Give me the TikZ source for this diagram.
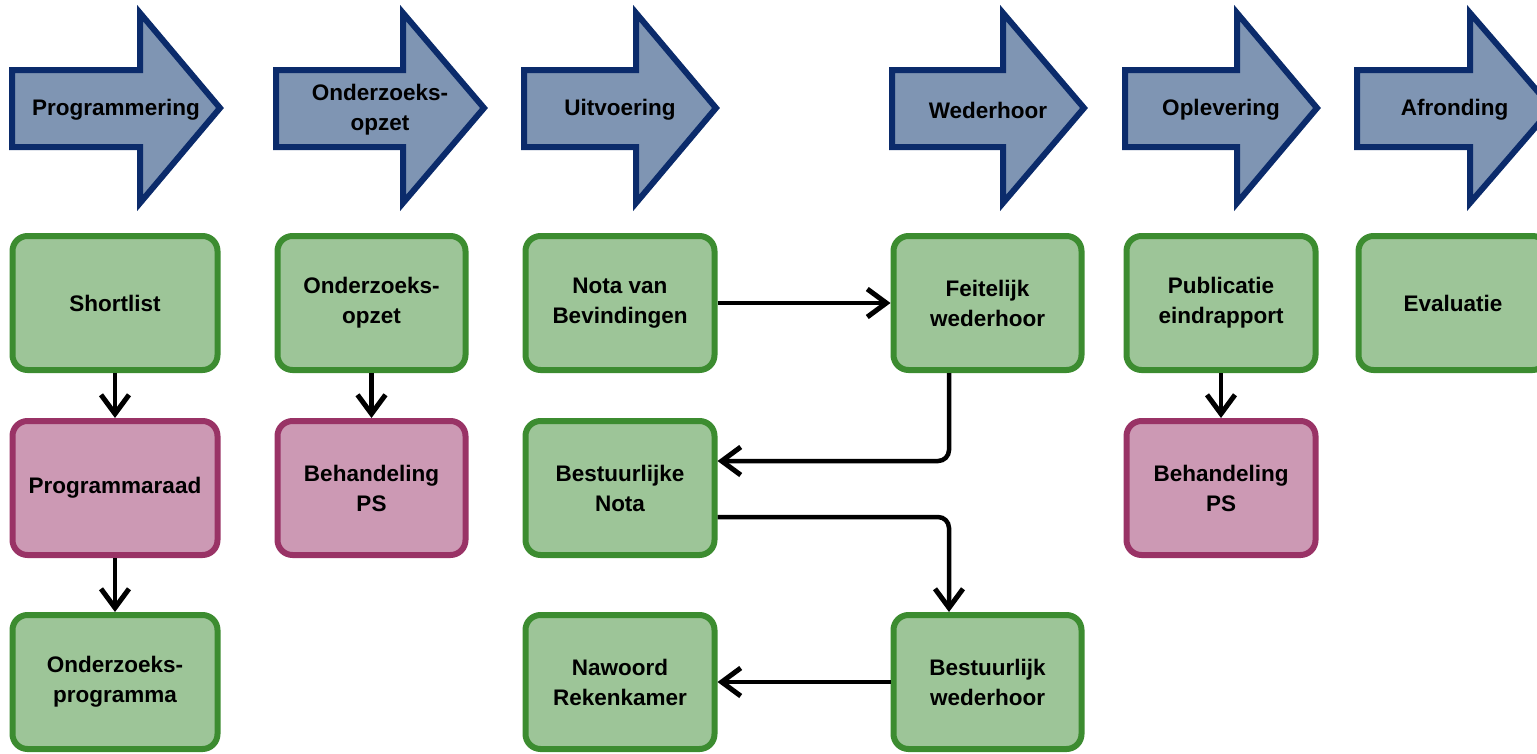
\documentclass[tikz,border=0pt]{standalone}
\usepackage{fontspec}
\setmainfont{Liberation Sans}
\usetikzlibrary{arrows.meta}
\definecolor{phfill}{HTML}{7F95B3}
\definecolor{phline}{HTML}{0B2B6B}
\definecolor{gfill}{HTML}{9DC598}
\definecolor{gline}{HTML}{3C8C30}
\definecolor{pfill}{HTML}{CC99B4}
\definecolor{pline}{HTML}{993366}
\tikzset{
  phase/.style={fill=phfill,draw=phline,line width=6pt,line join=miter},
  phasetext/.style={font=\bfseries\fontsize{22.5}{30}\selectfont,align=center},
  gbox/.style={draw=gline,fill=gfill,line width=6pt,rounded corners=15pt,minimum width=#1,minimum height=134pt,font=\bfseries\fontsize{22.5}{30}\selectfont,align=center,inner sep=0pt},
  pbox/.style={gbox=#1,draw=pline,fill=pfill},
  conn/.style={line width=4.5pt,-{Straight Barb[length=19pt,width=28pt,line width=5pt]},rounded corners=11pt}
}
\begin{document}
\begin{tikzpicture}[x=1pt,y=-1pt]
\useasboundingbox (0,0) rectangle (1537,753);
\clip (0,0) rectangle (1537,753);
% phase arrows
\foreach \L/\B/\T/\txt/\nm in {12/140/220/Programmering/a1, 276/403/484/Onderzoeks-\\opzet/a2, 524/636/716/Uitvoering/a3, 892/1003/1084/Wederhoor/a4, 1125/1237/1317/Oplevering/a5, 1357/1470/1552/Afronding/a6}{
  \draw[phase] (\L,70) -- (\B,70) -- (\B,13) -- (\T,108) -- (\B,203) -- (\B,147) -- (\L,147) -- cycle;
  \node[phasetext] (\nm) at ({(\L+\T)/2},110) {\txt};
}
% boxes
\node[gbox=205pt] (shortlist) at (115,303) {Shortlist};
\node[pbox=205pt] (praad) at (115,488) {Programmaraad};
\node[gbox=205pt] (oprog) at (115,682) {Onderzoeks-\\programma};
\node[gbox=188pt] (oopzet) at (371.5,303) {Onderzoeks-\\opzet};
\node[pbox=188pt] (bps1) at (371.5,488) {Behandeling\\PS};
\node[gbox=189pt] (nota) at (620,303) {Nota van\\Bevindingen};
\node[gbox=189pt] (bnota) at (620,488) {Bestuurlijke\\Nota};
\node[gbox=189pt] (nawoord) at (620,682) {Nawoord\\Rekenkamer};
\node[gbox=188pt] (feit) at (987.5,303) {Feitelijk\\wederhoor};
\node[gbox=188pt] (bwed) at (987.5,682) {Bestuurlijk\\wederhoor};
\node[gbox=189pt] (publ) at (1221,303) {Publicatie\\eindrapport};
\node[pbox=189pt] (bps2) at (1221,488) {Behandeling\\PS};
\node[gbox=189pt] (eval) at (1453,303) {Evaluatie};
% connectors
\draw[conn] (shortlist.south) -- (praad.north);
\draw[conn] (praad.south) -- (oprog.north);
\draw[conn] (oopzet.south) -- (bps1.north);
\draw[conn] (publ.south) -- (bps2.north);
\draw[conn] (nota.east) -- (feit.west);
\draw[conn] (feit.south -| 949,0) -- (949,461) -- (bnota.east |- 0,461);
\draw[conn] (bnota.east |- 0,517) -- (949,517) -- (bwed.north -| 949,0);
\draw[conn] (bwed.west) -- (nawoord.east);
\end{tikzpicture}
\end{document}
